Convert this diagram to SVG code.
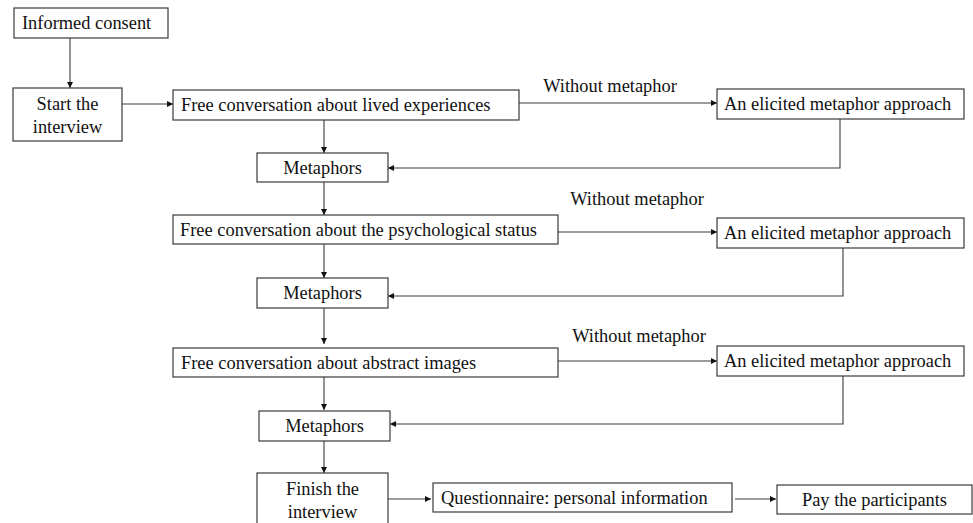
<svg xmlns="http://www.w3.org/2000/svg" width="973" height="523" viewBox="0 0 973 523">
<style>
rect{fill:#fff;stroke:#3a3a3a;stroke-width:1.2}
text{font-family:"Liberation Serif","Times New Roman",serif;font-size:18.4px;fill:#111}
.c{text-anchor:middle}
#connectors path{fill:none;stroke:#3a3a3a;stroke-width:1.1}
</style>
<defs>
<marker id="ah" markerWidth="7" markerHeight="6" refX="6" refY="3" orient="auto" markerUnits="userSpaceOnUse">
<path d="M0,0 L6,3 L0,6 Z" fill="#111"/>
</marker>
</defs>
<rect x="0" y="0" width="973" height="523" style="fill:#fff;stroke:none"/>
<g id="connectors">
<path d="M70,38 V88" marker-end="url(#ah)"/>
<path d="M122,104 H173" marker-end="url(#ah)"/>
<path d="M324,120 V153" marker-end="url(#ah)"/>
<path d="M519,103 H717" marker-end="url(#ah)"/>
<path d="M840,119 V168 H388" marker-end="url(#ah)"/>
<path d="M324,182 V215" marker-end="url(#ah)"/>
<path d="M558,232 H717" marker-end="url(#ah)"/>
<path d="M324,244 V278" marker-end="url(#ah)"/>
<path d="M843,248 V296 H388" marker-end="url(#ah)"/>
<path d="M324,308 V344" marker-end="url(#ah)"/>
<path d="M558,361 H717" marker-end="url(#ah)"/>
<path d="M324,377 V410" marker-end="url(#ah)"/>
<path d="M843,376 V424 H390" marker-end="url(#ah)"/>
<path d="M324,441 V473" marker-end="url(#ah)"/>
<path d="M388,499 H431" marker-end="url(#ah)"/>
<path d="M735,499 H776" marker-end="url(#ah)"/>
<text x="610" y="92" class="c">Without metaphor</text>
<text x="637" y="205" class="c">Without metaphor</text>
<text x="639" y="342" class="c">Without metaphor</text>
</g>
<g id="informed-consent"><rect x="14" y="8" width="154" height="30"/><text x="22" y="29">Informed consent</text></g>
<g id="start-interview"><rect x="13" y="88" width="109" height="53"/><text x="67.5" y="110" class="c">Start the</text><text x="67.5" y="133" class="c">interview</text></g>
<g id="free-lived"><rect x="173" y="90" width="346" height="30"/><text x="181" y="111">Free conversation about lived experiences</text></g>
<g id="elicited-1"><rect x="717" y="89" width="247" height="30"/><text x="724" y="110">An elicited metaphor approach</text></g>
<g id="metaphors-1"><rect x="257" y="153" width="131" height="29"/><text x="322.5" y="174" class="c">Metaphors</text></g>
<g id="free-psych"><rect x="173" y="215" width="385" height="29"/><text x="180" y="236">Free conversation about the psychological status</text></g>
<g id="elicited-2"><rect x="717" y="218" width="247" height="30"/><text x="724" y="239">An elicited metaphor approach</text></g>
<g id="metaphors-2"><rect x="257" y="278" width="131" height="30"/><text x="322.5" y="299" class="c">Metaphors</text></g>
<g id="free-abstract"><rect x="173" y="348" width="385" height="29"/><text x="181" y="369">Free conversation about abstract images</text></g>
<g id="elicited-3"><rect x="717" y="346" width="247" height="30"/><text x="724" y="367">An elicited metaphor approach</text></g>
<g id="metaphors-3"><rect x="259" y="411" width="131" height="30"/><text x="324.5" y="432" class="c">Metaphors</text></g>
<g id="finish-interview"><rect x="257" y="473" width="131" height="55"/><text x="322.5" y="495" class="c">Finish the</text><text x="322.5" y="518" class="c">interview</text></g>
<g id="questionnaire"><rect x="433" y="483" width="299" height="29"/><text x="441" y="504">Questionnaire: personal information</text></g>
<g id="pay"><rect x="777" y="485" width="195" height="29"/><text x="874.5" y="506" class="c">Pay the participants</text></g>
</svg>
